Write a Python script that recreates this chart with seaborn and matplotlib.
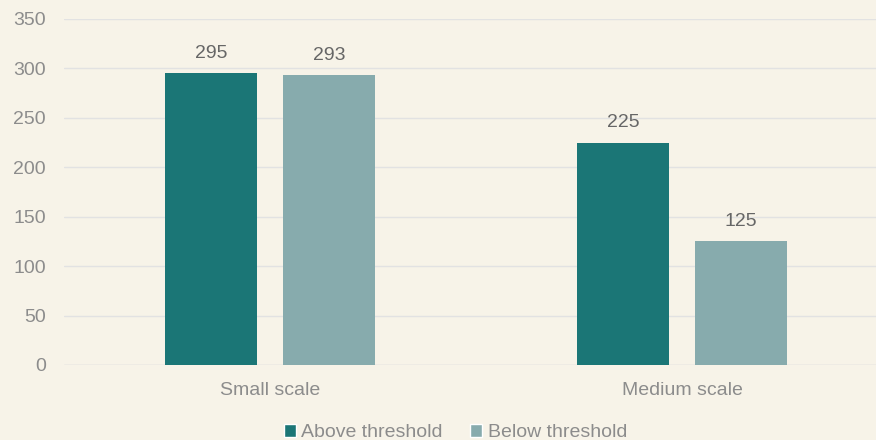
import matplotlib
matplotlib.use("Agg")
import matplotlib.pyplot as plt
import seaborn as sns
import pandas as pd
from matplotlib.patches import Patch

categories = ["Small scale", "Medium scale"]
series_names = ["Above threshold", "Below threshold"]
above = [295, 225]
below = [293, 125]
yticks = [0, 50, 100, 150, 200, 250, 300, 350]

df = pd.DataFrame({
    "category": categories * 2,
    "series": [series_names[0]] * 2 + [series_names[1]] * 2,
    "value": above + below,
})

bg = "#F7F3E8"
colors = ["#1B7676", "#87ABAD"]

sns.set_theme(style="white")
plt.rcParams["font.family"] = ["Liberation Sans", "DejaVu Sans"]

fig = plt.figure(figsize=(8.76, 4.4), dpi=100, facecolor=bg)
ax = fig.add_axes([0.073, 0.1705, 0.927, 0.7865])
ax.set_facecolor(bg)

sns.barplot(data=df, x="category", y="value", hue="series", palette=colors,
            width=0.573, gap=0.22, ax=ax, legend=False, saturation=1,
            linewidth=0)

for c in ax.containers:
    ax.bar_label(c, labels=[f"{v:.0f}" for v in c.datavalues], padding=8,
                 fontsize=14, color="#666666")

ax.set_ylim(0, 350)
ax.set_xlim(-0.5, 1.47)
ax.set_yticks(yticks)
ax.set_yticklabels([str(t) for t in yticks])
ax.yaxis.grid(True, color="#E2E2E2", linewidth=1)
ax.set_axisbelow(True)
for s in ax.spines.values():
    s.set_visible(False)
ax.axhline(0, color="#DADADA", linewidth=1, zorder=0.5)
ax.tick_params(axis="both", length=0, labelcolor="#8C8C8C")
ax.tick_params(axis="y", pad=13, labelsize=14)
ax.tick_params(axis="x", pad=12, labelsize=14)
ax.set_xlabel("")
ax.set_ylabel("")

handles = [Patch(facecolor=colors[i], label=series_names[i]) for i in range(2)]
leg = fig.legend(handles=handles, loc="lower center", bbox_to_anchor=(0.52, -0.043),
                 ncol=2, frameon=False, fontsize=14, handlelength=0.6,
                 handleheight=0.6, handletextpad=0.3, columnspacing=1.4)
for t in leg.get_texts():
    t.set_color("#8C8C8C")

fig.savefig("out.png", dpi=100, facecolor=bg)
